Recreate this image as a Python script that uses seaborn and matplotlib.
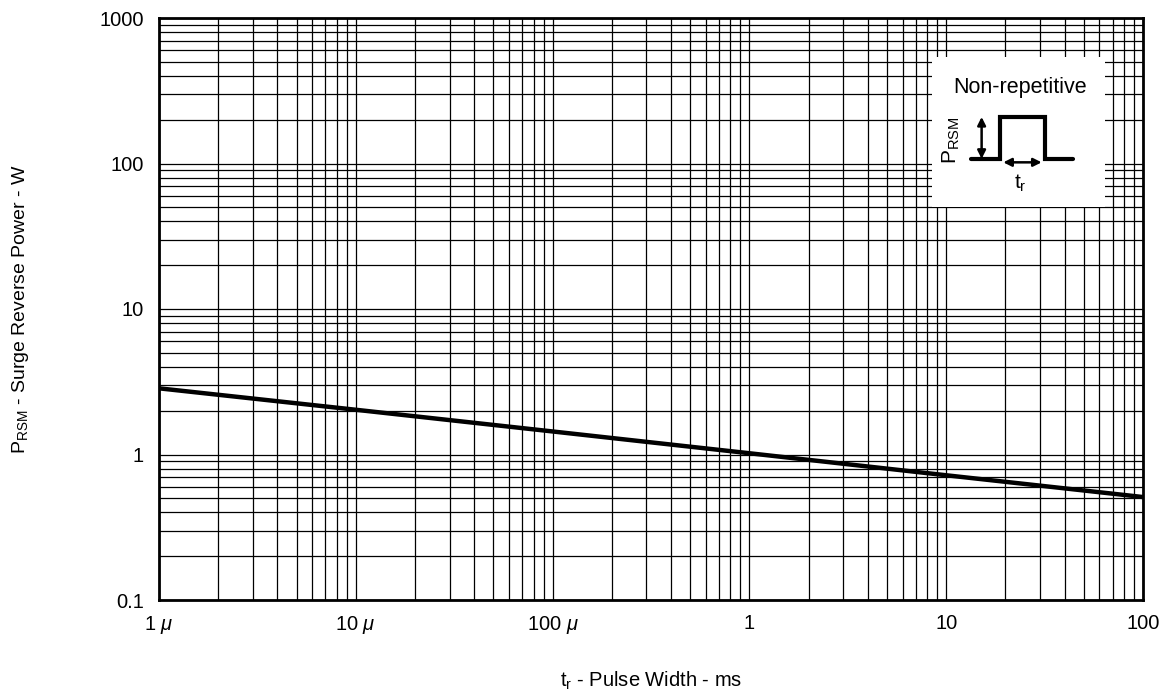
import matplotlib
matplotlib.use("Agg")
import matplotlib.pyplot as plt
import seaborn as sns
import pandas as pd
from matplotlib.patches import Rectangle

# Data (pulse width in ms, surge power in W)
pulse_width_ms = [0.001, 0.01, 0.1, 1, 10, 100]
surge_power_w = [2.85, 2.03, 1.44, 1.02, 0.72, 0.51]

x_ticks = [0.001, 0.01, 0.1, 1, 10, 100]
x_tick_labels = ["1 $\\mu$", "10 $\\mu$", "100 $\\mu$", "1", "10", "100"]
y_ticks = [0.1, 1, 10, 100, 1000]
y_tick_labels = ["0.1", "1", "10", "100", "1000"]

sns.set_theme(style="white")
plt.rcParams['font.family'] = ['Liberation Sans', 'DejaVu Sans']
plt.rcParams['mathtext.fontset'] = 'custom'
plt.rcParams['mathtext.rm'] = 'Liberation Sans'
plt.rcParams['mathtext.it'] = 'Liberation Sans:italic'
plt.rcParams['mathtext.bf'] = 'Liberation Sans:bold'
plt.rcParams['text.color'] = 'black'
plt.rcParams['axes.labelcolor'] = 'black'

fig = plt.figure(figsize=(11.69, 6.95), dpi=100)
ax = fig.add_axes([159/1169, 95/695, 984/1169, 582/695])

df = pd.DataFrame({"t": pulse_width_ms, "p": surge_power_w})
sns.lineplot(data=df, x="t", y="p", ax=ax, color="black", linewidth=3.2, zorder=3)

ax.set_xscale("log")
ax.set_yscale("log")
ax.set_xlim(0.001, 100)
ax.set_ylim(0.1, 1000)
ax.set_xticks(x_ticks)
ax.set_xticklabels(x_tick_labels)
ax.set_yticks(y_ticks)
ax.set_yticklabels(y_tick_labels)
ax.set_xlabel("")
ax.set_ylabel("")
ax.tick_params(axis="both", which="both", length=0, labelsize=14.5, colors="black")
ax.tick_params(axis="x", pad=10)
ax.tick_params(axis="y", pad=11)

ax.set_axisbelow(True)
ax.grid(True, which="major", color="black", linewidth=0.9)
ax.grid(True, which="minor", color="black", linewidth=0.9)
for s in ax.spines.values():
    s.set_visible(True)
    s.set_color("black")
    s.set_linewidth(2.0)

# Inset box covering the grid
ax.add_patch(Rectangle((0.7856, 0.675), 0.1758, 0.258, transform=ax.transAxes,
                       facecolor="white", edgecolor="none", zorder=1.5))
ax.text(0.875, 0.881, "Non-repetitive", transform=ax.transAxes, ha="center",
        va="center", fontsize=15.5, color="black", zorder=4)
# pulse shape
px = [0.825, 0.855, 0.855, 0.900, 0.900, 0.929]
py = [0.758, 0.758, 0.830, 0.830, 0.758, 0.758]
ax.plot(px, py, transform=ax.transAxes, color="black", linewidth=3, zorder=4,
        solid_joinstyle="miter")
ax.annotate("", xy=(0.836, 0.830), xytext=(0.836, 0.758), xycoords="axes fraction",
            textcoords="axes fraction",
            arrowprops=dict(arrowstyle="<|-|>", color="black", lw=1.8,
                            mutation_scale=12, shrinkA=0, shrinkB=0), zorder=4)
ax.annotate("", xy=(0.858, 0.752), xytext=(0.897, 0.752), xycoords="axes fraction",
            textcoords="axes fraction",
            arrowprops=dict(arrowstyle="<|-|>", color="black", lw=1.8,
                            mutation_scale=12, shrinkA=0, shrinkB=0), zorder=4)
ax.text(0.875, 0.716, "t$_{\\rm r}$", transform=ax.transAxes, ha="center",
        va="center", fontsize=15, color="black", zorder=4)
ax.text(0.805, 0.790, "P$_{\\rm RSM}$", transform=ax.transAxes, ha="center",
        va="center", fontsize=15, rotation=90, color="black", zorder=4)

fig.text(651/1169, 1 - 681/695, "t$_{\\rm r}$ - Pulse Width - ms", ha="center",
         va="center", fontsize=14.5, color="black")
fig.text(21/1169, 1 - 309/695, "P$_{\\rm RSM}$ - Surge Reverse Power - W", ha="center",
         va="center", fontsize=14, rotation=90, color="black")

fig.savefig("out.png", dpi=100)
